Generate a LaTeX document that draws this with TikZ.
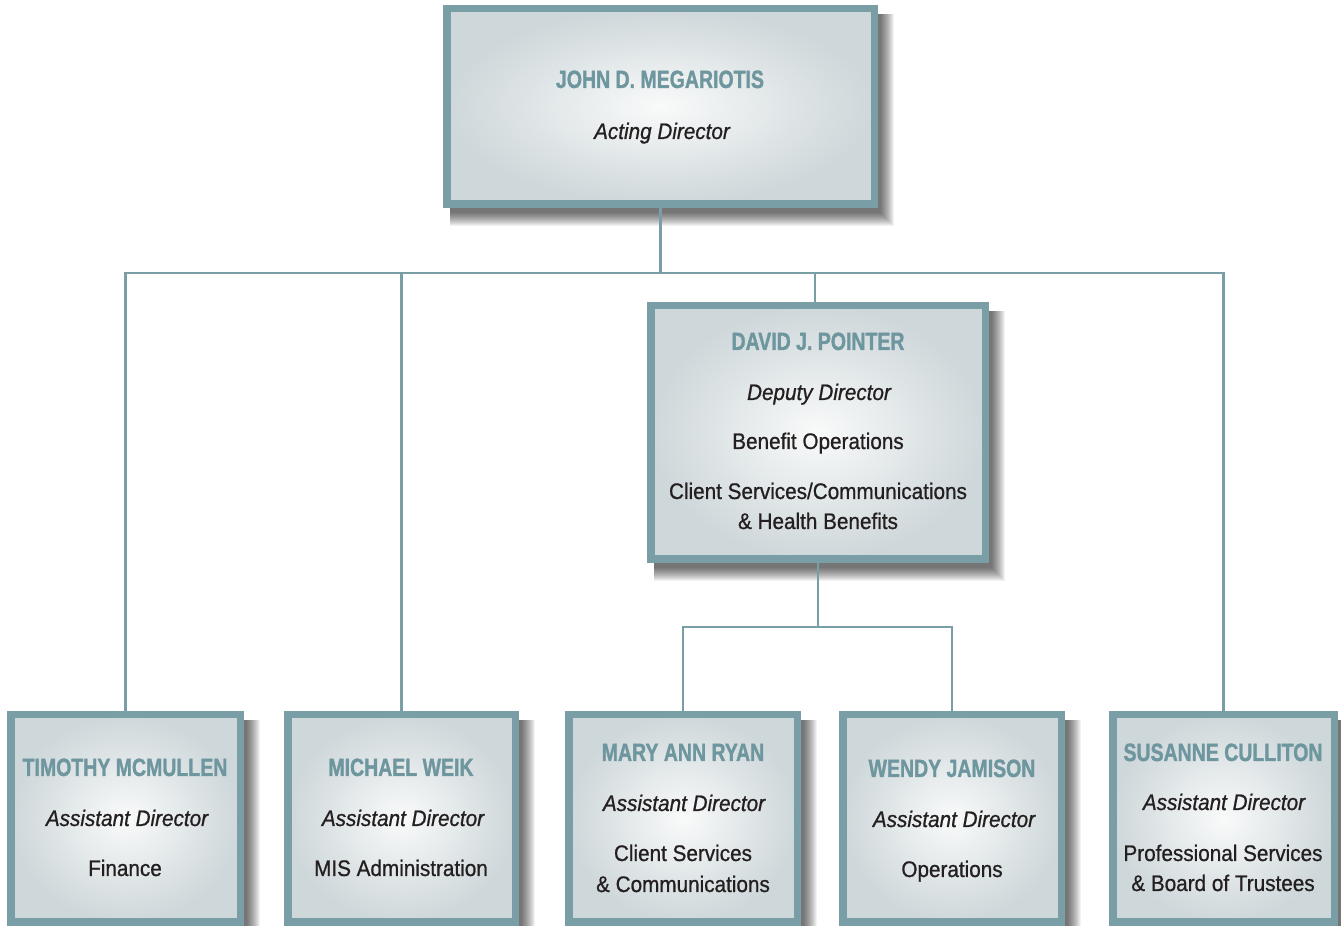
\documentclass[tikz,border=0pt]{standalone}
\usepackage{fontspec}
\setmainfont{Liberation Sans}
\newfontfamily\namefont{Liberation Sans}[FakeStretch=0.78,FakeBold=1.2]
\newfontfamily\bodyfont{Liberation Sans}[FakeStretch=0.92,FakeBold=0.8]
\usetikzlibrary{backgrounds}

\definecolor{frame}{RGB}{122,158,165}
\definecolor{nametxt}{RGB}{110,150,158}
\definecolor{bodytxt}{RGB}{35,31,32}
\definecolor{panelout}{RGB}{206,215,218}
\definecolor{panelin}{RGB}{249,250,250}

\tikzset{
  panel/.style={rectangle, draw=frame, line width=7.5pt, shading=radial,
    inner color=panelin, outer color=panelout, inner sep=0pt},
  conn/.style={draw=frame, line width=2.4pt},
  nm/.style={inner sep=0pt, text height=18pt, text depth=0pt, text=nametxt,
    font=\namefont\bfseries\fontsize{25}{28}\selectfont},
  role/.style={inner sep=0pt, text height=16pt, text depth=0pt, text=bodytxt,
    font=\bodyfont\itshape\fontsize{22.5}{25}\selectfont},
  unit/.style={inner sep=0pt, text height=16pt, text depth=0pt, text=bodytxt,
    font=\bodyfont\fontsize{22.5}{25}\selectfont},
}

% soft drop shadow below and to the right of a panel
\newcommand\panelshadow[1]{%
  \foreach \k in {0,...,13}{%
    \fill[black,opacity=0.05]
      ([xshift=7pt,yshift={\k*1pt-18pt}]#1.south west) rectangle
      ([xshift={16pt-\k*1pt},yshift=-9pt]#1.north east);
  }}

\begin{document}
\begin{tikzpicture}[x=1pt,y=1pt]
\useasboundingbox (0,0) rectangle (1341,926);

% panels
\node[panel, minimum width=427.5pt, minimum height=195.5pt] (top) at (660.5,819.5) {};
\node[panel, minimum width=334.5pt, minimum height=253.5pt] (dep) at (818,493.5) {};
\node[panel, minimum width=229.5pt, minimum height=207.5pt] (b1) at (125.5,107.5) {};
\node[panel, minimum width=227.5pt, minimum height=207.5pt] (b2) at (401.5,107.5) {};
\node[panel, minimum width=228.5pt, minimum height=207.5pt] (b3) at (683,107.5) {};
\node[panel, minimum width=218.5pt, minimum height=207.5pt] (b4) at (952,107.5) {};
\node[panel, minimum width=221.5pt, minimum height=207.5pt] (b5) at (1223.5,107.5) {};

\begin{pgfonlayer}{background}
  \fill[white] (0,0) rectangle (1341,926);
  \panelshadow{top}
  \panelshadow{dep}
  \panelshadow{b1}
  \panelshadow{b2}
  \panelshadow{b3}
  \panelshadow{b4}
  \panelshadow{b5}
\end{pgfonlayer}

% connectors
\draw[conn] (top.south) -- ++(0,-65) coordinate (hub);
\draw[conn] (b1.north) |- (hub) -| (b5.north);
\draw[conn] (b2.north) -- (b2.north |- hub);
\draw[conn] ([xshift=-3pt]dep.north) -- ([xshift=-3pt]dep.north |- hub);
\draw[conn] (dep.south) -- ++(0,-64) coordinate (hub2);
\draw[conn] (b3.north) |- (hub2) -| (b4.north);

% texts
\node[nm]   (topname) at (660,847) {JOHN D. MEGARIOTIS};
\node[role] (toprole) at (662,795) {Acting Director};

\node[nm]   (depname) at (818,585) {DAVID J. POINTER};
\node[role] (deprole) at (819,534) {Deputy Director};
\node[unit] (depu1)   at (818,485) {Benefit Operations};
\node[unit] (depu2)   at (818,435) {Client Services/Communications};
\node[unit] (depu3)   at (818,405) {\& Health Benefits};

\node[nm]   (n1) at (125,159) {TIMOTHY MCMULLEN};
\node[role] (r1) at (127,108) {Assistant Director};
\node[unit] (u1) at (125,58)  {Finance};

\node[nm]   (n2) at (401,159) {MICHAEL WEIK};
\node[role] (r2) at (403,108) {Assistant Director};
\node[unit] (u2) at (401,58)  {MIS Administration};

\node[nm]   (n3) at (683,174) {MARY ANN RYAN};
\node[role] (r3) at (684,123) {Assistant Director};
\node[unit] (u3) at (683,73)  {Client Services};
\node[unit] (v3) at (683,42)  {\& Communications};

\node[nm]   (n4) at (952,158) {WENDY JAMISON};
\node[role] (r4) at (954,107) {Assistant Director};
\node[unit] (u4) at (952,57)  {Operations};

\node[nm]   (n5) at (1223,174) {SUSANNE CULLITON};
\node[role] (r5) at (1224,124) {Assistant Director};
\node[unit] (u5) at (1223,73)  {Professional Services};
\node[unit] (v5) at (1223,43)  {\& Board of Trustees};
\end{tikzpicture}
\end{document}
